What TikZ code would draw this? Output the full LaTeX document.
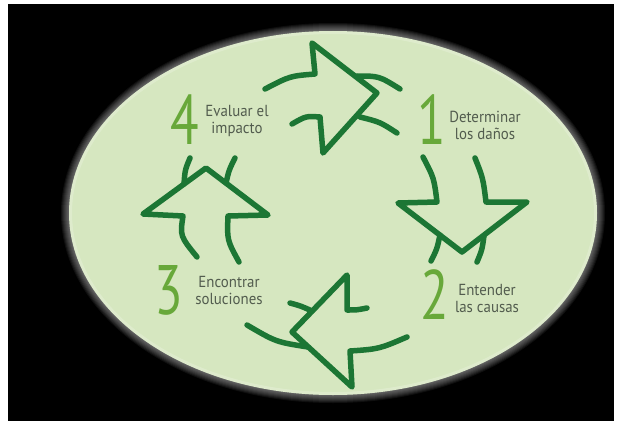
\documentclass[tikz,border=0pt]{standalone}
\usepackage{fontspec}
\newfontfamily\lblfont{PT Sans}[FakeStretch=0.93]
\newfontfamily\numfont{PT Sans}[FakeStretch=0.75]
\definecolor{bgfill}{RGB}{214,231,192}
\definecolor{arrowgreen}{RGB}{28,118,52}
\definecolor{numgreen}{RGB}{104,168,58}
\definecolor{lblgray}{RGB}{82,92,78}

\begin{document}
\begin{tikzpicture}[x=1pt,y=-1pt,
  arw/.style={arrowgreen,line width=5.5pt,line cap=round,line join=round},
  num/.style={numgreen,inner sep=0pt,font=\numfont\fontsize{70}{70}\selectfont},
  lbl/.style={lblgray,inner sep=0pt,align=center,font=\lblfont\fontsize{16}{17}\selectfont}]
\useasboundingbox (0,0) rectangle (621,428);
\fill[white] (0,0) rectangle (621,428);
\fill[black] (8,4) rectangle (614,421);
\coordinate (c) at (333,213);
\foreach \k in {1,...,8}
  \fill[white,opacity=.06] (c) ellipse ({(264+\k)*1pt} and {(182+\k)*1pt});
\fill[bgfill] (c) ellipse (264pt and 182pt);
\draw[white,opacity=.2,line width=3pt] (c) ellipse (262.5pt and 180.5pt);

\draw[arw] (265,89) .. controls (290,76) .. (315,74) -- (312,43) -- (377,93)
  -- (323,153) -- (320,117) .. controls (306,116) .. (292,124);
\draw[arw] (357,76) .. controls (379,76) .. (400,89);
\draw[arw] (360,117) .. controls (380,122) .. (397,133);

\draw[arw] (423,157) .. controls (434,178) .. (437,202) -- (398,203) -- (462,252)
  -- (527,202) -- (486,202) .. controls (483,178) .. (475,158);
\draw[arw] (440,235) .. controls (437,249) .. (431,261);
\draw[arw] (484,236) .. controls (482,250) .. (477,262);

\draw[arw] (367,308) .. controls (357,310) .. (347,310) -- (347,275) -- (292,332)
  -- (352,387) -- (350,351) .. controls (379,349) .. (407,337);
\draw[arw] (290,303) .. controls (301,306) .. (312,311);
\draw[arw] (247,325) .. controls (276,342) .. (308,347);

\draw[arw] (197,257) .. controls (180,236) .. (183,216) -- (143,214) -- (206,168)
  -- (268,215) -- (228,216) .. controls (227,240) .. (239,262);
\draw[arw] (184,184) .. controls (185,170) .. (190,158);
\draw[arw] (226,183) .. controls (229,170) .. (235,158);

\node[num] (num1) at (432,120) {1};
\node[lbl] (lbl1) at (485,125) {Determinar\\los daños};
\node[num] (num2) at (435,295) {2};
\node[lbl] (lbl2) at (487,298) {Entender\\las causas};
\node[num] (num3) at (169,290) {3};
\node[lbl] (lbl3) at (229,290) {Encontrar\\soluciones};
\node[num] (num4) at (185,120) {4};
\node[lbl] (lbl4) at (237,121) {Evaluar el\\impacto};
\end{tikzpicture}
\end{document}
